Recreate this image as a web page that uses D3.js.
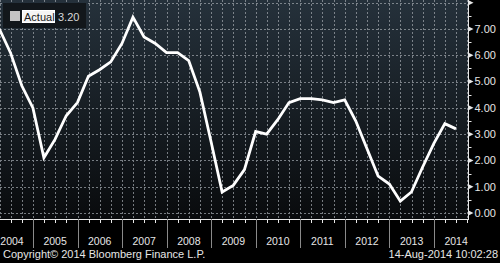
<!DOCTYPE html>
<html>
<head>
<meta charset="utf-8">
<script src="https://cdn.jsdelivr.net/npm/d3@7"></script>
<style>
  html, body { margin: 0; padding: 0; background: #000; }
  svg { display: block; font-family: "Liberation Sans", Arial, sans-serif; }
</style>
</head>
<body>
<svg id="chart" width="500" height="263"></svg>
<script>
// quarterly values, Q1 2004 .. Q2 2014
const quarters = d3.range(42).map(i => new Date(2004, i * 3 + 3, 0));
const actual = [
  7.0, 6.1, 4.85, 4.0,
  2.1, 2.8, 3.7, 4.2,
  5.2, 5.45, 5.75, 6.45,
  7.45, 6.7, 6.45, 6.1,
  6.1, 5.8, 4.6, 2.7,
  0.8, 1.05, 1.65, 3.1,
  3.0, 3.55, 4.2, 4.35,
  4.35, 4.3, 4.2, 4.3,
  3.5, 2.45, 1.4, 1.1,
  0.45, 0.8, 1.75, 2.65,
  3.4, 3.2
];
const years = d3.range(2004, 2015);
const yTicks = d3.range(0, 9);
const lastLabel = "3.20";

const svg = d3.select("#chart");
const plotW = 468, plotH = 219;

// 1: SCALES
const x = d3.scaleTime()
  .domain([new Date(2004, 0, 1), new Date(2014, 0, 1)])
  .range([-11.6, 434]);
const y = d3.scaleLinear().domain([0, 7]).range([213, 29]);

// 2: BACKGROUND
const defs = svg.append("defs");
const grad = defs.append("linearGradient")
  .attr("id", "bg").attr("x1", 0).attr("y1", 0).attr("x2", 0).attr("y2", 1);
grad.append("stop").attr("offset", "0%").attr("stop-color", "#25313b");
grad.append("stop").attr("offset", "100%").attr("stop-color", "#090b0d");
defs.append("clipPath").attr("id", "clip")
  .append("rect").attr("width", plotW).attr("height", plotH);

svg.append("rect").attr("width", 500).attr("height", 263).attr("fill", "#000");
svg.append("rect").attr("width", plotW).attr("height", plotH).attr("fill", "url(#bg)");

// 3: GRIDLINES
const qTicks = d3.timeMonth.every(3).range(new Date(2003, 9, 1), new Date(2015, 0, 1));
const grid = svg.append("g").attr("clip-path", "url(#clip)")
  .attr("stroke", "#9aa0a6").attr("stroke-width", 1)
  .attr("stroke-dasharray", "2,2").attr("opacity", 0.75);
grid.selectAll("line.v").data(qTicks).join("line")
  .attr("class", "v")
  .attr("x1", d => Math.round(x(d)) + 0.5).attr("x2", d => Math.round(x(d)) + 0.5)
  .attr("y1", 0).attr("y2", plotH);
grid.selectAll("line.h").data(yTicks).join("line")
  .attr("class", "h")
  .attr("x1", 0).attr("x2", plotW)
  .attr("y1", d => Math.round(y(d)) + 0.5).attr("y2", d => Math.round(y(d)) + 0.5);

// 4: LINE
const line = d3.line().x((d, i) => x(quarters[i])).y(d => y(d));
svg.append("path")
  .datum(actual)
  .attr("clip-path", "url(#clip)")
  .attr("fill", "none")
  .attr("stroke", "#fff")
  .attr("stroke-width", 2.8)
  .attr("stroke-linejoin", "miter")
  .attr("d", line);

// 5: RIGHT AXIS
const yAxis = svg.append("g").attr("transform", `translate(${plotW + 0.5},0)`);
yAxis.append("line").attr("y1", 0).attr("y2", plotH).attr("stroke", "#e8e8e8");
yAxis.selectAll("line.minor").data(d3.range(0.5, 8, 1)).join("line")
  .attr("class", "minor")
  .attr("x1", 0).attr("x2", 3)
  .attr("y1", d => Math.round(y(d)) + 0.5).attr("y2", d => Math.round(y(d)) + 0.5)
  .attr("stroke", "#e8e8e8");
yAxis.selectAll("path.major").data(yTicks).join("path")
  .attr("class", "major")
  .attr("d", d => `M0,${y(d) - 2.5}L5,${y(d)}L0,${y(d) + 2.5}Z`)
  .attr("fill", "#e8e8e8");
yAxis.selectAll("text").data(yTicks.filter(d => d < 8)).join("text")
  .attr("x", 6).attr("y", d => y(d) + 3.8)
  .attr("fill", "#e6e6e6").attr("font-size", 11)
  .text(d => d.toFixed(2));

// 6: BOTTOM AXIS
const xAxis = svg.append("g");
xAxis.append("line").attr("x1", 0).attr("x2", plotW + 1)
  .attr("y1", plotH + 0.5).attr("y2", plotH + 0.5).attr("stroke", "#e8e8e8");
xAxis.selectAll("line.q").data(qTicks.filter(d => x(d) > 0 && x(d) < plotW)).join("line")
  .attr("class", "q")
  .attr("x1", d => Math.round(x(d)) + 0.5).attr("x2", d => Math.round(x(d)) + 0.5)
  .attr("y1", plotH).attr("y2", plotH + 4)
  .attr("stroke", "#e8e8e8");
xAxis.selectAll("line.yr").data(years.filter(d => d > 2004)).join("line")
  .attr("class", "yr")
  .attr("x1", d => Math.round(x(new Date(d, 0, 1))) + 0.5)
  .attr("x2", d => Math.round(x(new Date(d, 0, 1))) + 0.5)
  .attr("y1", plotH).attr("y2", 248)
  .attr("stroke", "#8a8a8a");
xAxis.selectAll("text").data(years).join("text")
  .attr("x", d => Math.max(12, x(new Date(d, 6, 1))))
  .attr("y", 244.5)
  .attr("text-anchor", "middle")
  .attr("fill", "#e6e6e6").attr("font-size", 10.5)
  .text(d => d);

// 7: LEGEND
const lg = svg.append("g");
lg.append("rect").attr("x", 3).attr("y", 3).attr("width", 83).attr("height", 25)
  .attr("fill", "#12171b");
lg.append("rect").attr("x", 10).attr("y", 11).attr("width", 10).attr("height", 10)
  .attr("fill", "#c4c4c4");
lg.append("rect").attr("x", 22.5).attr("y", 10.5).attr("width", 32).attr("height", 12)
  .attr("fill", "#f4f4f4").attr("stroke", "#fff");
lg.append("text").attr("x", 24).attr("y", 20.5)
  .attr("fill", "#1a1a1a").attr("font-size", 11).text("Actual");
lg.append("text").attr("x", 58).attr("y", 20.5)
  .attr("fill", "#d8d8d8").attr("font-size", 11).text(lastLabel);

// 8: FOOTER
svg.append("text").attr("x", 3).attr("y", 258)
  .attr("fill", "#e6e6e6").attr("font-size", 11)
  .text("Copyright\u00A9 2014 Bloomberg Finance L.P.");
svg.append("text").attr("x", 498).attr("y", 258)
  .attr("text-anchor", "end")
  .attr("fill", "#e6e6e6").attr("font-size", 11)
  .text("14-Aug-2014 10:02:28");
</script>
</body>
</html>
